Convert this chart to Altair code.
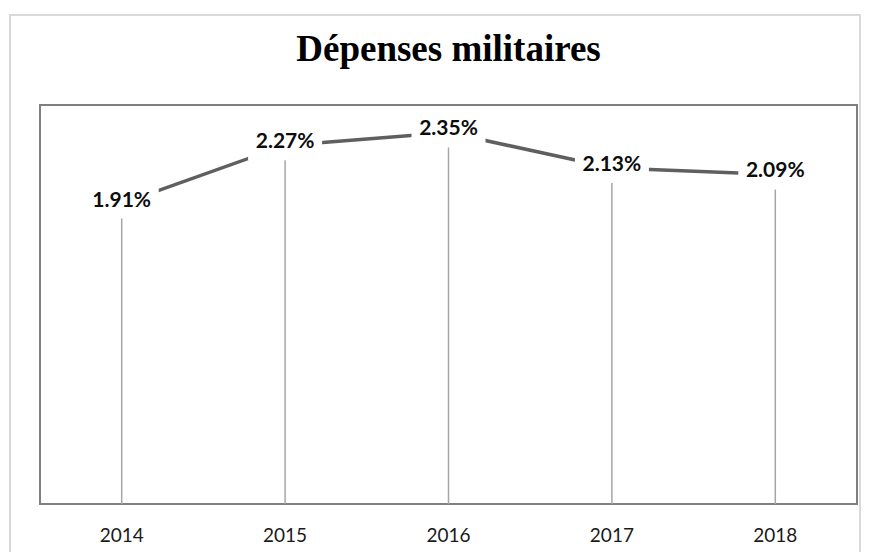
import altair as alt
import pandas as pd

years = ["2014", "2015", "2016", "2017", "2018"]
values = [1.91, 2.27, 2.35, 2.13, 2.09]
labels = ["1.91%", "2.27%", "2.35%", "2.13%", "2.09%"]
title_text = "Dépenses militaires"
y_domain = [0.05, 2.52]

df = pd.DataFrame({"year": years, "value": values, "label": labels})

x = alt.X(
    "year:O",
    title=None,
    scale=alt.Scale(paddingInner=0, paddingOuter=0),
    axis=alt.Axis(
        labelAngle=0, ticks=False, domain=False, grid=False,
        labelFont="Lato", labelFontSize=19, labelColor="#1a1a1a", labelPadding=22,
    ),
)
y = alt.Y("value:Q", scale=alt.Scale(domain=y_domain, zero=False, nice=False), axis=None)

base = alt.Chart(df)

frame = alt.Chart(pd.DataFrame({"f": [0]})).mark_rect(
    fillOpacity=0, stroke="#d9d9d9", strokeWidth=2
).encode(x=alt.value(-30), x2=alt.value(820), y=alt.value(-90), y2=alt.value(470))

drops = base.mark_rule(color="#a6a6a6", strokeWidth=1.5).encode(
    x=x, y=y, y2=alt.datum(y_domain[0])
)
line = base.mark_line(color="#5f5f5f", strokeWidth=3.5).encode(x=x, y=y)
boxes = base.mark_point(
    shape="M-1,-0.57H1V0.405H-1Z", size=74 ** 2, filled=True,
    fill="white", color="white", opacity=1, strokeWidth=0,
).encode(x=x, y=y)
text = base.mark_text(
    font="Lato", fontSize=21, fontWeight="bold", color="#0d0d0d", dy=-3
).encode(x=x, y=y, text="label:N")

chart = (
    alt.layer(frame, drops, line, boxes, text)
    .properties(
        width=817,
        height=399,
        padding={"left": 32, "top": 97, "right": 6, "bottom": 48},
        autosize=alt.AutoSizeParams(type="none"),
        title=alt.TitleParams(
            text=title_text, font="Liberation Serif", fontSize=37, fontWeight="bold",
            color="#000000", anchor="middle", baseline="alphabetic", offset=-84,
            frame="group",
        ),
    )
    .configure_view(stroke="#7f7f7f", strokeWidth=2)
)

chart.save("out.html", embed_options={"renderer": "svg", "actions": False})
